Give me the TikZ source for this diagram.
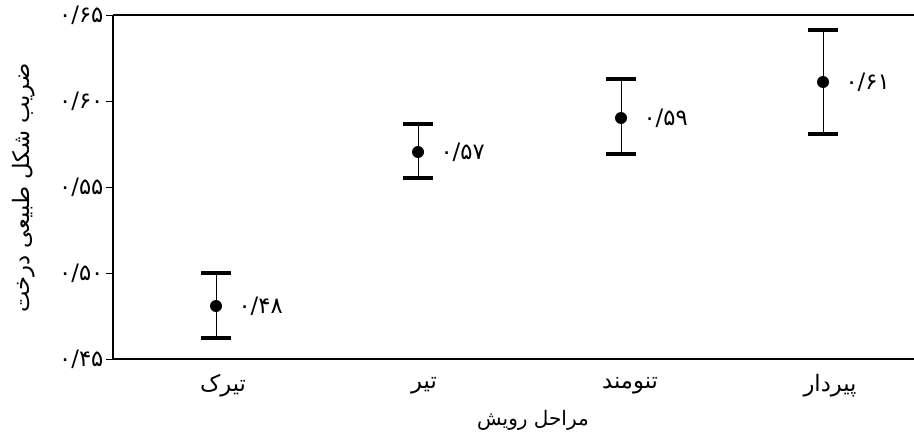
\documentclass[tikz,border=0pt]{standalone}
\usepackage{fontspec}
\newfontfamily\fafont[Script=Arabic]{DejaVu Sans}
\TeXXeTstate=1
\usetikzlibrary{calc}
\usetikzlibrary{positioning}

\begin{document}
\begin{tikzpicture}[x=0.75pt,y=-0.75pt,
    axisline/.style={line width=1.6pt},
    barcap/.style={line width=2.4pt},
    dot/.style={circle,fill,inner sep=0pt,minimum size=9pt},
    ticklab/.style={font=\fafont\fontsize{17}{19}\selectfont,anchor=east,inner sep=0pt},
    vallab/.style={font=\fafont\fontsize{17}{19}\selectfont,inner sep=0pt},
    catlab/.style={font=\fafont\fontsize{17}{19}\selectfont,inner sep=0pt}]

      \useasboundingbox (0,0) rectangle (914,439);

      % frame
      \coordinate (o) at (113,359);
      \coordinate (t) at (113,15);
      \coordinate (tr) at (914,15);
      \coordinate (br) at (914,359);
      \draw[axisline] (t) -- (o) -- (br);
      \draw[axisline] (t) -- (tr);

      % y ticks
      \foreach \y/\lab in {15/{۰/۶۵},101/{۰/۶۰},187/{۰/۵۵},273/{۰/۵۰},359/{۰/۴۵}}
        \draw (106,\y) -- (113,\y) node[ticklab,xshift=-7pt] {\lab};

      % error bars
      \foreach \n/\x/\t/\m/\b/\lab in {a/216/273/306/338/{۰/۴۸},b/418/124/152/178/{۰/۵۷},
                                      c/621/79/118/154/{۰/۵۹},d/823/30/82/134/{۰/۶۱}}
      {
        \coordinate (top\n) at (\x,\t);
        \coordinate (bot\n) at (\x,\b);
        \draw[thin] (top\n) -- (bot\n);
        \draw[barcap] ($(top\n)+(-15,0)$) -- ($(top\n)+(15,0)$);
        \draw[barcap] ($(bot\n)+(-15,0)$) -- ($(bot\n)+(15,0)$);
        \node[dot] (m\n) at (\x,\m) {};
        \node[vallab,right=12pt of m\n] (v\n) {\lab};
      }

      % categories
      \node[catlab] (ca) at (223,386) {\beginR تیرک\endR};
      \node[catlab] (cb) at (424,386) {\beginR تیر\endR};
      \node[catlab] (cc) at (630,386) {\beginR تنومند\endR};
      \node[catlab] (cd) at (830,386) {\beginR پیردار\endR};

      % axis titles
      \node[catlab,font=\fafont\fontsize{15}{17}\selectfont] (xt) at (533,420) {\beginR مراحل رویش\endR};
      \node[catlab,rotate=90] (yt) at (24,188) {\beginR ضریب شکل طبیعی درخت\endR};
    \end{tikzpicture}
\end{document}
